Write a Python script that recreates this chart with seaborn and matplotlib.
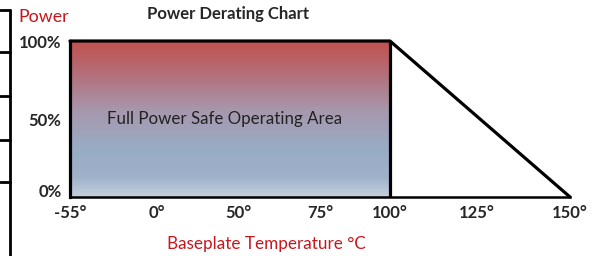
import numpy as np
import pandas as pd
import matplotlib.pyplot as plt
import matplotlib.transforms as mtrans
import seaborn as sns
from matplotlib.colors import LinearSegmentedColormap
from matplotlib.lines import Line2D

# derating curve: full power up to 100 C, then linear to zero at 150 C
temp = [-55, 100, 150]
power = [100, 100, 0]

temp_ticks = [-55, 0, 50, 75, 100, 125, 150]
temp_labels = ['-55°', '0°', '50°', '75°', '100°', '125°', '150°']
power_ticks = [0, 50, 100]
power_labels = ['0%', '50%', '100%']

# where each tick sits along the axis (the chart is not to scale)
axis_pos = [70, 157, 238, 320, 390, 477, 570]

RED = '#C8161D'

sns.set_theme(style='white')
plt.rcParams['font.family'] = ['Lato', 'DejaVu Sans']

fig = plt.figure(figsize=(6.02, 2.56), dpi=100)
ax = fig.add_axes([70 / 602, 59 / 256, 500 / 602, 156 / 256])

fwd = lambda x: np.interp(x, temp_ticks, axis_pos)
inv = lambda x: np.interp(x, axis_pos, temp_ticks)
ax.set_xscale('function', functions=(fwd, inv))

# gradient fill of the safe operating area
grad = LinearSegmentedColormap.from_list('soa', [
    (0.0, '#C3CEDC'), (0.12, '#9FB1C9'), (0.30, '#98ABC5'),
    (0.55, '#A697AC'), (0.80, '#B46C76'), (1.0, '#C0504D')])
yy = np.linspace(0, 100, 101)
ax.pcolormesh([temp[0], temp[1]], yy, yy[:-1, None], cmap=grad,
              vmin=0, vmax=100, shading='flat', zorder=1)

df = pd.DataFrame({'temp': temp, 'power': power})
sns.lineplot(data=df, x='temp', y='power', sort=False, color='black',
             lw=2.3, ax=ax, zorder=3, clip_on=False)
ax.vlines(temp[1], 0, power[1], color='black', lw=2.3, zorder=3)

ax.set_xlim(temp_ticks[0], temp_ticks[-1])
ax.set_ylim(0, 100)
sns.despine(ax=ax, top=True, right=True)
ax.spines['left'].set_linewidth(2.3)
ax.spines['left'].set_color('black')
ax.spines['left'].set_zorder(4)
ax.spines['bottom'].set_linewidth(1.8)
ax.spines['bottom'].set_color('black')

ax.set_xticks(temp_ticks)
ax.set_xticklabels(temp_labels, fontsize=12, fontweight='bold')
ax.set_yticks(power_ticks)
ax.set_yticklabels(power_labels, fontsize=12, fontweight='bold')
ax.tick_params(axis='x', length=0, pad=6)
ax.tick_params(axis='y', length=0, pad=6)
ax.set_xlabel('')
ax.set_ylabel('')

# the 0% label sits a little above the baseline
lab0 = ax.get_yticklabels()[0]
lab0.set_transform(lab0.get_transform() +
                   mtrans.ScaledTranslation(0, 5 / 72, fig.dpi_scale_trans))

ax.text(0.31, 0.5, 'Full Power Safe Operating Area', transform=ax.transAxes,
        ha='center', va='center', fontsize=12.2, color='#222222')

fig.text(228 / 602, 1 - 14 / 256, 'Power Derating Chart', ha='center',
         va='center', fontsize=12, fontweight='bold')
fig.text(18 / 602, 1 - 17 / 256, 'Power', ha='left', va='center',
         fontsize=12.8, color=RED)
fig.text(266 / 602, 1 - 244 / 256, 'Baseplate Temperature °C', ha='center',
         va='center', fontsize=12.3, color=RED)

# border cut off at the left edge of the picture
fig.add_artist(Line2D([10 / 602, 10 / 602], [0, 1 - 10 / 256],
                      color='black', lw=2, transform=fig.transFigure))
for yp in [10, 52, 96, 140, 182]:
    fig.add_artist(Line2D([0, 10 / 602], [1 - yp / 256, 1 - yp / 256],
                          color='black', lw=2, transform=fig.transFigure))

fig.savefig('out.png', dpi=100)
